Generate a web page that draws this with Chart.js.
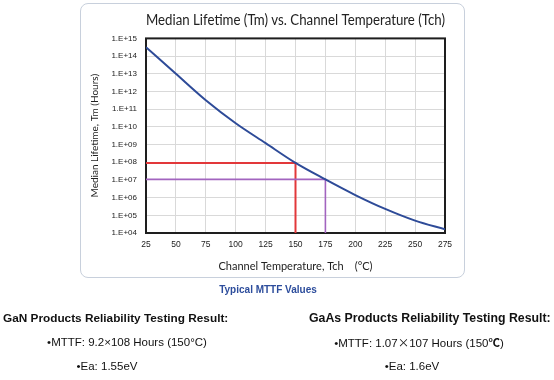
<!DOCTYPE html>
<html>
<head>
<meta charset="utf-8">
<script src="https://cdn.jsdelivr.net/npm/chart.js@4.4.1/dist/chart.umd.min.js"></script>
<style>
  html, body { margin: 0; padding: 0; background: #fff; }
  body { width: 554px; height: 380px; position: relative; overflow: hidden; font-family: "Liberation Sans", Arial, sans-serif; }
  #card { position: absolute; left: 80px; top: 3px; width: 385px; height: 275px; border: 1px solid #c8d0dc; border-radius: 8px; box-sizing: border-box; background: #fff; }
  #wrap { position: absolute; left: 0; top: 0; width: 554px; height: 380px; }
  .t { position: absolute; white-space: nowrap; color: #111; line-height: 16px; }
  .c { text-align: center; }
  .b { font-weight: bold; }
  .cjk { font-family: "Noto Sans CJK SC", sans-serif; }
</style>
</head>
<body>
<div id="card"></div>
<div id="wrap"><canvas id="c" width="554" height="380"></canvas></div>
<div class="t c b" style="left:168px; top:282px; width:200px; font-size:10px; color:#2d4d9c;">Typical MTTF Values</div>
<div class="t b" style="left:3px; top:310px; font-size:11.8px;">GaN Products Reliability Testing Result:</div>
<div class="t c" style="left:27px; top:334px; width:200px; font-size:11.5px;">•MTTF: 9.2×108 Hours (150°C)</div>
<div class="t c" style="left:7px; top:358px; width:200px; font-size:11.5px;">•Ea: 1.55eV</div>
<div class="t b" style="left:309px; top:310px; font-size:12.3px;">GaAs Products Reliability Testing Result:</div>
<div class="t c" style="left:319px; top:334px; width:200px; font-size:11.5px;">•MTTF: 1.07<span class="cjk">×</span>107 Hours (150<span class="cjk b">℃</span>)</div>
<div class="t c" style="left:312px; top:358px; width:200px; font-size:11.5px;">•Ea: 1.6eV</div>
<script>
// ---- data ----
const temperatures = [25, 50, 75, 100, 125, 150, 175, 200, 225, 250, 275];
const medianLifetimeHours = [3.2e14, 1.0e13, 3.2e11, 1.6e10, 1.2e9, 9.2e7, 1.07e7, 1.4e6, 2.3e5, 5.0e4, 1.6e4];
const ganMarker = [150, 9.2e7];      // [Tch, hours]
const gaasMarker = [175, 1.07e7];    // [Tch, hours]
const yTickValues = [1e4, 1e5, 1e6, 1e7, 1e8, 1e9, 1e10, 1e11, 1e12, 1e13, 1e14, 1e15];
const xTickValues = [25, 50, 75, 100, 125, 150, 175, 200, 225, 250, 275];
const chartTitle = "Median Lifetime (Tm) vs. Channel Temperature (Tch)";
const xTitle = "Channel Temperature, Tch\u3000(°C)";
const yTitle = "Median Lifetime, Tm (Hours)";

const yMin = yTickValues[0], yMax = yTickValues[yTickValues.length - 1];
const xMin = xTickValues[0], xMax = xTickValues[xTickValues.length - 1];

function markerPath(m) {
  return [{x: xMin, y: m[1]}, {x: m[0], y: m[1]}, {x: m[0], y: yMin}];
}

const framePlugin = {
  id: 'frame',
  beforeDatasetsDraw(chart) {
    const a = chart.chartArea, ctx = chart.ctx;
    ctx.save();
    ctx.strokeStyle = '#1e1e1e';
    ctx.lineWidth = 2;
    ctx.strokeRect(a.left, a.top, a.right - a.left, a.bottom - a.top);
    ctx.restore();
  }
};

new Chart(document.getElementById('c'), {
  type: 'line',
  data: {
    datasets: [
      {
        label: 'Tm',
        data: temperatures.map((t, i) => ({x: t, y: medianLifetimeHours[i]})),
        borderColor: '#2e4b98',
        borderWidth: 2,
        pointRadius: 0,
        cubicInterpolationMode: 'monotone',
        fill: false,
        order: 0
      },
      {
        label: 'GaN',
        data: markerPath(ganMarker),
        borderColor: '#e2383a',
        borderWidth: 2,
        pointRadius: 0,
        tension: 0,
        fill: false,
        order: 2
      },
      {
        label: 'GaAs',
        data: markerPath(gaasMarker),
        borderColor: '#a264bf',
        borderWidth: 1.6,
        pointRadius: 0,
        tension: 0,
        fill: false,
        order: 1
      }
    ]
  },
  options: {
    responsive: false,
    animation: false,
    devicePixelRatio: 1,
    layout: { padding: { left: 89, right: 109, top: 4, bottom: 107 } },
    plugins: {
      legend: { display: false },
      tooltip: { enabled: false },
      title: {
        display: true,
        text: chartTitle,
        fullSize: false,
        color: '#222',
        font: { family: 'Lato', size: 14.5, weight: 'normal', lineHeight: 1.2 },
        padding: { top: 8, bottom: 9 }
      }
    },
    scales: {
      x: {
        type: 'linear',
        min: xMin,
        max: xMax,
        afterBuildTicks(scale) { scale.ticks = xTickValues.map(v => ({value: v})); },
        afterFit(scale) { scale.height = 40; },
        grid: { color: '#d9d9d9', lineWidth: 1, drawTicks: false },
        border: { display: false },
        ticks: {
          padding: 7,
          maxRotation: 0,
          color: '#222',
          font: { family: 'Liberation Sans', size: 8.5 }
        },
        title: {
          display: true,
          text: xTitle,
          color: '#222',
          padding: 0,
          font: { family: 'Lato', size: 11, lineHeight: 1.2 }
        }
      },
      y: {
        type: 'logarithmic',
        min: yMin,
        max: yMax,
        afterBuildTicks(scale) { scale.ticks = yTickValues.map(v => ({value: v})); },
        afterFit(scale) { scale.width = 57; },
        grid: { color: '#d9d9d9', lineWidth: 1, drawTicks: false },
        border: { display: false },
        ticks: {
          padding: 9,
          color: '#222',
          font: { family: 'Liberation Sans', size: 8 },
          callback(v) {
            const e = Math.round(Math.log10(v));
            return '1.E+' + String(e).padStart(2, '0');
          }
        },
        title: {
          display: true,
          text: yTitle,
          color: '#222',
          padding: 0,
          font: { family: 'Lato', size: 10, lineHeight: 1.2 }
        }
      }
    }
  },
  plugins: [framePlugin]
});
</script>
</body>
</html>
